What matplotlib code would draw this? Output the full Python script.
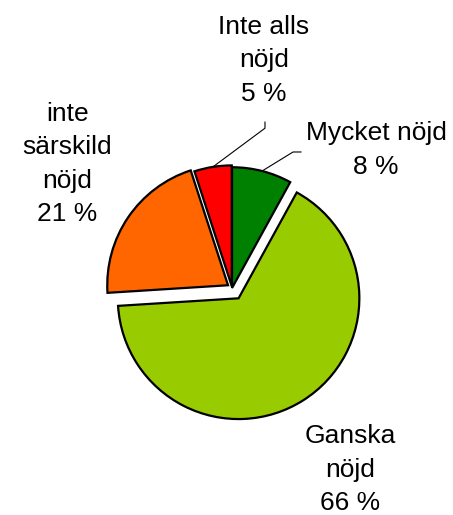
import numpy as np
import matplotlib
matplotlib.use("Agg")
import matplotlib.pyplot as plt

# data
labels = ['Mycket nöjd', 'Ganska\nnöjd', 'inte\nsärskild\nnöjd', 'Inte alls\nnöjd']
shares = [8, 66, 21, 5]
colors = ['#008000', '#99CC00', '#FF6600', '#FF0000']
explode = [0.0, 0.1, 0.04, 0.015]

plt.rcParams['font.family'] = ['Liberation Sans', 'DejaVu Sans']

fig = plt.figure(figsize=(4.53, 5.15), dpi=100)
ax = fig.add_axes([0, 0, 1, 1])

wedges, _ = ax.pie(shares, colors=colors, explode=explode, startangle=90,
                   counterclock=False, radius=0.99,
                   wedgeprops=dict(edgecolor='black', linewidth=1.6))

ax.set_xlim(-1.902, 1.811)
ax.set_ylim(-1.861, 2.361)
ax.set_aspect('equal')
ax.axis('off')

# label text (centre of each block), in pie units
label_pos = [(1.18, 1.13), (0.967, -1.49), (-1.352, 1.016), (0.262, 1.869)]
for lab, val, (lx, ly) in zip(labels, shares, label_pos):
    ax.text(lx, ly, f'{lab}\n{val} %', ha='center', va='center',
            fontsize=19, linespacing=1.5)

# leader lines from wedge midpoint to label
def wedge_anchor(w):
    ang = np.deg2rad((w.theta1 + w.theta2) / 2)
    cx, cy = w.center
    return cx + w.r * np.cos(ang), cy + w.r * np.sin(ang)

# Inte alls nöjd
x0, y0 = wedge_anchor(wedges[3])
ax.plot([x0, 0.27, 0.27], [y0, 1.31, 1.36], color='black', lw=0.8)
# Mycket nöjd
x0, y0 = wedge_anchor(wedges[0])
ax.plot([x0, 0.50, 0.565], [y0, 1.115, 1.115], color='black', lw=0.8)

fig.savefig('out.png', dpi=100)
